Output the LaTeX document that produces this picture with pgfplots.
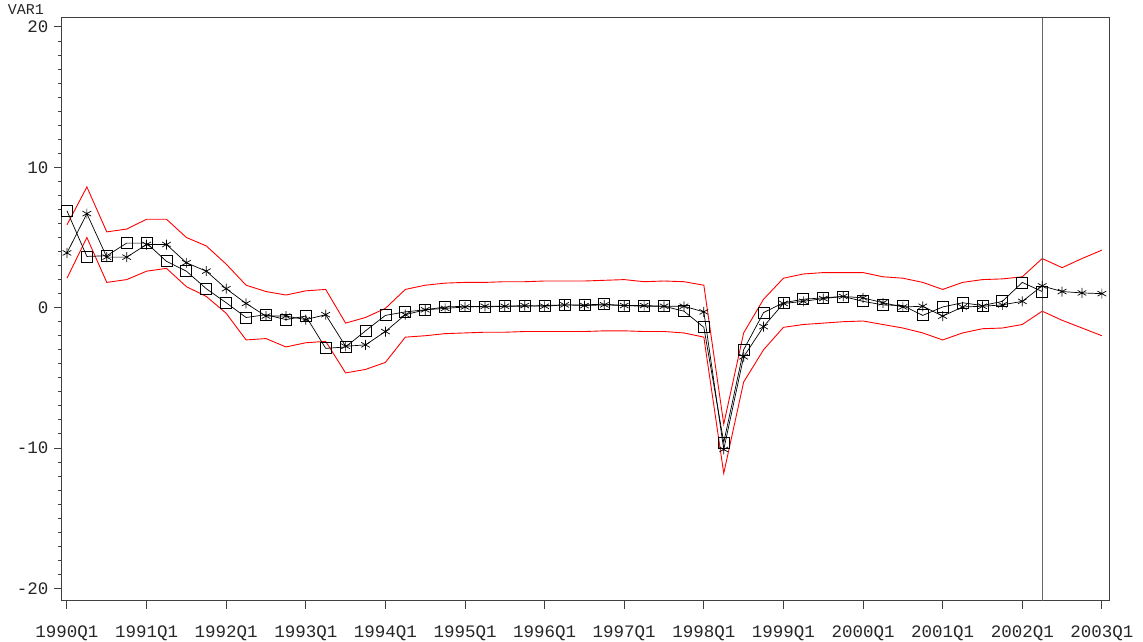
\documentclass[border=0pt]{standalone}
\usepackage{fontspec}
\setmainfont{Liberation Mono}
\usepackage{pgfplots}
\usepackage{pgfplotstable}
\pgfplotsset{compat=1.18}
\pgfplotstableread{
i sq st up lo
0 6.9 3.9 5.9 2.1
1 3.65 6.7 8.6 5.0
2 3.7 3.6 5.4 1.8
3 4.6 3.6 5.6 2.0
4 4.6 4.5 6.3 2.6
5 3.3 4.5 6.3 2.8
6 2.6 3.2 5.0 1.5
7 1.35 2.6 4.4 0.8
8 0.35 1.35 3.1 -0.4
9 -0.7 0.3 1.6 -2.3
10 -0.5 -0.6 1.15 -2.2
11 -0.85 -0.6 0.9 -2.8
12 -0.6 -0.85 1.2 -2.5
13 -2.9 -0.5 1.3 -2.4
14 -2.8 -2.75 -1.1 -4.65
15 -1.65 -2.65 -0.7 -4.4
16 -0.55 -1.7 -0.05 -3.9
17 -0.3 -0.5 1.3 -2.1
18 -0.15 -0.15 1.6 -2.0
19 0.05 -0.05 1.75 -1.85
20 0.1 0.05 1.8 -1.8
21 0.05 0.1 1.8 -1.75
22 0.1 0.1 1.85 -1.75
23 0.1 0.15 1.85 -1.7
24 0.15 0.1 1.9 -1.7
25 0.2 0.2 1.9 -1.7
26 0.2 0.15 1.9 -1.7
27 0.25 0.2 1.95 -1.65
28 0.15 0.15 2.0 -1.65
29 0.1 0.15 1.85 -1.7
30 0.1 0.1 1.9 -1.7
31 -0.25 0.1 1.85 -1.8
32 -1.4 -0.3 1.6 -2.1
33 -9.6 -10.1 -8.3 -11.8
34 -3.0 -3.5 -1.8 -5.3
35 -0.35 -1.35 0.6 -3.0
36 0.35 0.3 2.1 -1.4
37 0.6 0.45 2.4 -1.2
38 0.7 0.65 2.5 -1.1
39 0.8 0.8 2.5 -1.0
40 0.45 0.7 2.5 -0.95
41 0.2 0.35 2.2 -1.2
42 0.15 0.05 2.1 -1.45
43 -0.55 0.1 1.8 -1.8
44 0.05 -0.6 1.3 -2.3
45 0.35 0.05 1.8 -1.8
46 0.15 0.1 2.0 -1.5
47 0.45 0.2 2.05 -1.45
48 1.8 0.45 2.2 -1.2
49 1.15 1.55 3.5 -0.25
50 nan 1.15 2.85 -0.9
51 nan 1.05 3.5 -1.45
52 nan 1.0 4.1 -2.0
}\data
\begin{document}
\begin{tikzpicture}
\useasboundingbox (-62pt,-41pt) rectangle (1081pt,601pt);
\begin{axis}[at={(0,0)}, anchor=south west, scale only axis,
  width=1047pt, height=583pt,
  xmin=-0.25, xmax=52.36, ymin=-20.9, ymax=20.64,
  xtick={0,4,...,52},
  xticklabels={1990Q1,1991Q1,1992Q1,1993Q1,1994Q1,1995Q1,1996Q1,1997Q1,1998Q1,1999Q1,2000Q1,2001Q1,2002Q1,2003Q1},
  ytick={-20,-10,0,10,20},
  yticklabels={-20,-10,0,10,20},
  minor y tick num=9,
  tick align=outside, tick pos=left,
  major tick length=8pt, minor tick length=4pt,
  axis line style={line width=1pt, black!75},
  every tick/.style={black!75, line width=1pt},
  tick label style={font=\fontsize{17.5}{17.5}\selectfont, black!85},
  xticklabel style={yshift=-13pt},
  yticklabel style={xshift=-2pt},
]
\addplot[red, line width=0.9pt, mark=none] table[x=i, y=up] {\data};
\addplot[red, line width=0.9pt, mark=none] table[x=i, y=lo] {\data};
\addplot[black, line width=0.7pt, mark=square, mark size=5.5pt, mark options={line width=0.8pt}] table[x=i, y=sq] {\data};
\addplot[black, line width=0.7pt, mark=asterisk, mark size=5pt, mark options={line width=0.7pt}] table[x=i, y=st] {\data};
\addplot[black!60, line width=1pt, mark=none] coordinates {(49,-20.9) (49,20.64)};
\end{axis}
\node[anchor=base, font=\fontsize{15}{15}\selectfont, black!85] at (-36pt,586pt) {VAR1};
\end{tikzpicture}
\end{document}
